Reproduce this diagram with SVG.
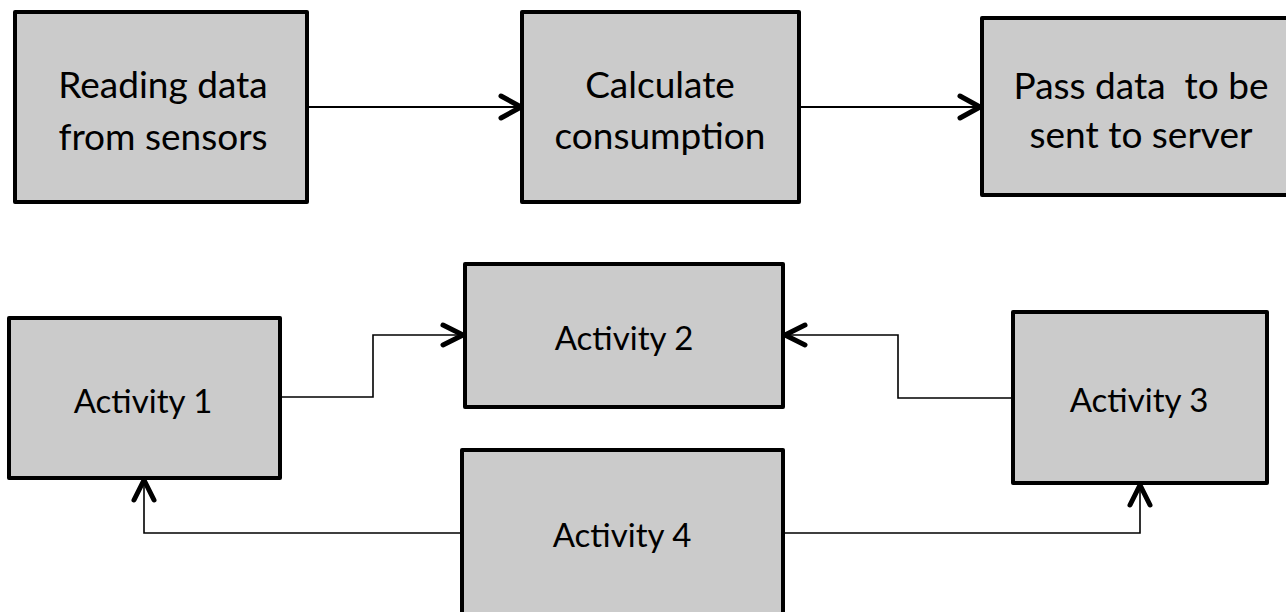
<svg xmlns="http://www.w3.org/2000/svg" width="1286" height="612" viewBox="0 0 1286 612">
  <style>
    .box { fill: #cbcbcb; stroke: #000; stroke-width: 4; stroke-linejoin: round; }
    .lbl { font-family: Lato, "Liberation Sans", sans-serif; fill: #000; text-anchor: middle; }
    .big { font-size: 37px; }
    .small { font-size: 33px; }
    .wire { fill: none; stroke: #000; stroke-width: 2; }
    .thin { stroke-width: 1.6; }
    .head { fill: none; stroke: #000; stroke-width: 5; stroke-linecap: round; stroke-linejoin: round; }
  </style>
  <rect width="1286" height="612" fill="#fff"/>

  <!-- top pipeline -->
  <g id="read-sensors">
    <rect class="box" x="15" y="12" width="292" height="190"/>
    <text class="lbl big" x="163" y="98">Reading data</text>
    <text class="lbl big" x="163" y="150">from sensors</text>
  </g>
  <g id="calc-consumption">
    <rect class="box" x="522" y="12" width="277" height="190"/>
    <text class="lbl big" x="660" y="98">Calculate</text>
    <text class="lbl big" x="660" y="149">consumption</text>
  </g>
  <g id="pass-data">
    <rect class="box" x="982" y="18" width="318" height="177"/>
    <text class="lbl big" x="1141" y="99" xml:space="preserve">Pass data  to be</text>
    <text class="lbl big" x="1141" y="148">sent to server</text>
  </g>

  <!-- bottom activities -->
  <g id="activity-1">
    <rect class="box" x="9" y="318" width="271" height="160"/>
    <text class="lbl small" x="143" y="413">Activity 1</text>
  </g>
  <g id="activity-2">
    <rect class="box" x="465" y="264" width="318" height="143"/>
    <text class="lbl small" x="624" y="350">Activity 2</text>
  </g>
  <g id="activity-3">
    <rect class="box" x="1013" y="312" width="254" height="171"/>
    <text class="lbl small" x="1139" y="412">Activity 3</text>
  </g>
  <g id="activity-4">
    <rect class="box" x="462" y="450" width="321" height="180"/>
    <text class="lbl small" x="622" y="547">Activity 4</text>
  </g>

  <!-- connectors -->
  <g id="connectors">
    <line class="wire" x1="307" y1="107" x2="520" y2="107"/>
    <polyline class="head" points="501,96 521,107 501,118"/>
    <line class="wire" x1="799" y1="107" x2="980" y2="107"/>
    <polyline class="head" points="960,96 980,107 960,118"/>

    <polyline class="wire thin" points="280,397 373,397 373,335 463,335"/>
    <polyline class="head" points="443,325 463,335 443,345"/>

    <polyline class="wire thin" points="1013,398 898,398 898,335 785,335"/>
    <polyline class="head" points="805,325 785,335 805,345"/>

    <polyline class="wire thin" points="462,533 144,533 144,480"/>
    <polyline class="head" points="134,500 144,480 154,500"/>

    <polyline class="wire thin" points="783,533 1140,533 1140,485"/>
    <polyline class="head" points="1130,505 1140,485 1150,505"/>
  </g>
</svg>
